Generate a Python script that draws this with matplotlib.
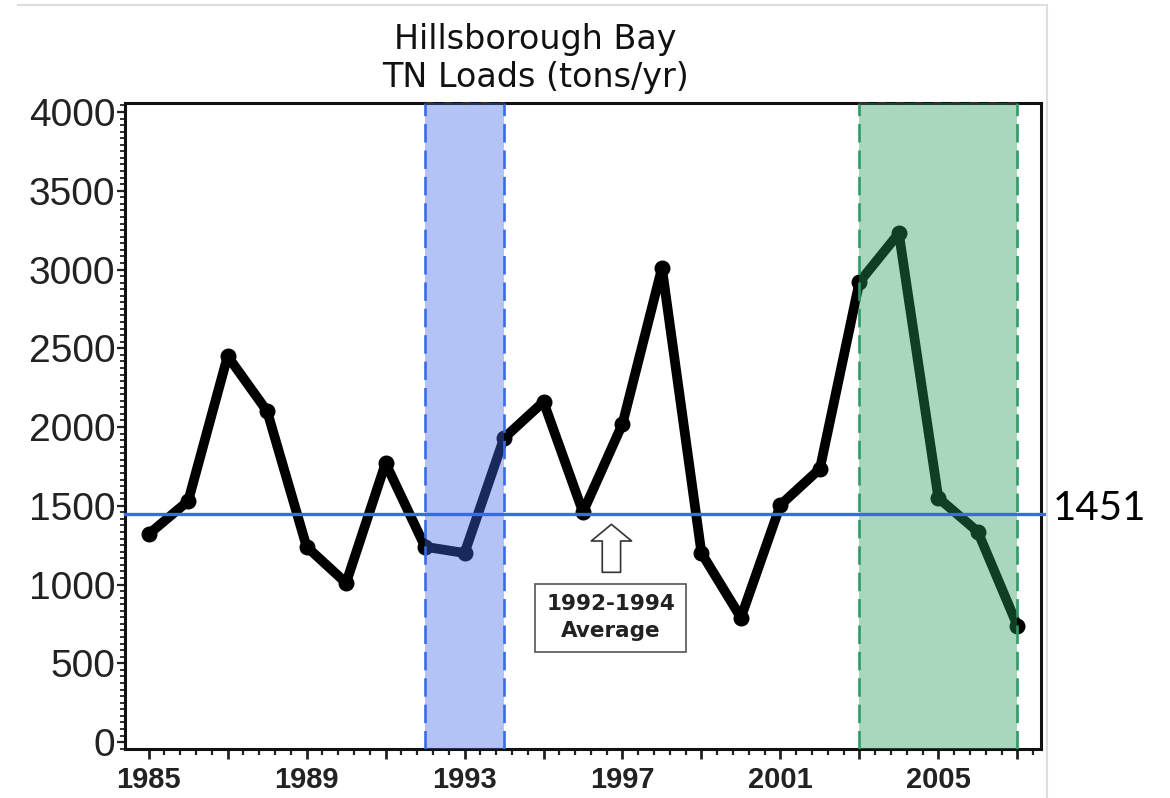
#!/usr/bin/env python3
"""
Hillsborough Bay TN loads (tons/yr), 1985-2007.

- black line with markers for yearly loads
- shaded 1992-1994 reference window and 2003-2007 window
- blue line at the 1992-1994 average (1451)
"""

import matplotlib
matplotlib.use("Agg")
import matplotlib.pyplot as plt
import matplotlib.transforms as mtransforms
from matplotlib.lines import Line2D
from matplotlib.ticker import FixedLocator, FuncFormatter, AutoMinorLocator
import numpy as np

# ---- data -------------------------------------------------------------
years = [1985, 1986, 1987, 1988, 1989, 1990, 1991, 1992, 1993, 1994, 1995, 1996,
         1997, 1998, 1999, 2000, 2001, 2002, 2003, 2004, 2005, 2006, 2007]
tn_loads = [1320, 1530, 2450, 2100, 1240, 1010, 1770, 1240, 1200, 1930, 2160, 1460,
            2020, 3010, 1200, 790, 1505, 1735, 2920, 3230, 1550, 1335, 740]

ref_window = (1992, 1994)
recent_window = (2003, 2007)
ref_average = 1451

y_ticks = [0, 500, 1000, 1500, 2000, 2500, 3000, 3500, 4000]
x_labelled = [1985, 1989, 1993, 1997, 2001, 2005]

title_lines = ["Hillsborough Bay", "TN Loads (tons/yr)"]
box_text = "1992-1994\nAverage"

# ---- style ------------------------------------------------------------
BLUE = "#3a6be6"
BLUE_FILL = "#4369e6"
GREEN = "#2f9a66"
GREEN_FILL = "#2a9b5c"
W, H = 1170, 798


def shade(ax, span, fill, edge):
    # fill drawn over the data line (it tints the line), dashed edges on top
    ax.axvspan(span[0], span[1], color=fill, alpha=0.4, lw=0, zorder=3)
    for x in span:
        ax.axvline(x, color=edge, lw=1.9, ls=(0, (7, 3)), zorder=4)
    ax.plot(span, [4057, 4057], color="#333333", lw=1.9, ls=(0, (3, 4)),
            zorder=5, clip_on=False)


def main():
    fig = plt.figure(figsize=(W / 100, H / 100), dpi=100)
    ax = fig.add_axes([125 / W, 1 - 749 / H, (1041 - 125) / W, (749 - 103) / H])

    ax.plot(years, tn_loads, color="black", lw=7, marker="o", ms=10.5,
            solid_joinstyle="round", zorder=2)

    shade(ax, ref_window, BLUE_FILL, BLUE)
    shade(ax, recent_window, GREEN_FILL, GREEN)

    # average line runs a bit past the right spine
    ax.axhline(ref_average, xmin=0, xmax=(1044 - 125) / (1041 - 125),
               color=BLUE, lw=2.4, zorder=6, clip_on=False)
    trans = mtransforms.blended_transform_factory(ax.transAxes, ax.transData)
    ax.text((1053 - 125) / (1041 - 125), ref_average + 30, str(ref_average),
            transform=trans, ha="left", va="center", fontsize=29,
            family="Lato", color="black")

    # hollow arrow + label box
    ax.annotate("", xy=(1996.72, 1400), xytext=(1996.72, 1060),
                arrowprops=dict(arrowstyle="simple,head_length=0.6,head_width=1.45,tail_width=0.66",
                                fc="white", ec="#333333", lw=1.2, mutation_scale=20),
                zorder=7)
    ax.text(1996.7, 790, box_text, ha="center", va="center", fontsize=15.5,
            fontweight="bold", color="#222222", linespacing=1.4, zorder=7,
            bbox=dict(boxstyle="square,pad=0.5", fc="white", ec="#555555", lw=1.2))

    ax.set_xlim(1984.4, 2007.6)
    ax.set_ylim(-44, 4057)

    # ticks
    ax.yaxis.set_major_locator(FixedLocator(y_ticks))
    ax.yaxis.set_minor_locator(AutoMinorLocator(12))
    ax.xaxis.set_major_locator(FixedLocator(np.arange(1985, 2008, 2)))
    ax.xaxis.set_minor_locator(FixedLocator(np.arange(1985, 2007.5, 0.4)))
    ax.xaxis.set_major_formatter(FuncFormatter(
        lambda v, p: str(int(round(v))) if int(round(v)) in x_labelled else ""))

    ax.tick_params(axis="y", which="major", direction="out", length=6, width=1.6,
                   labelsize=28, pad=1, colors="#222222",
                   labelfontfamily="Liberation Sans")
    ax.tick_params(axis="y", which="minor", direction="out", length=3.5, width=1.3,
                   colors="#222222")
    ax.tick_params(axis="x", which="major", direction="out", length=7, width=2,
                   labelsize=21, pad=5, colors="#222222",
                   labelfontfamily="Liberation Sans")
    ax.tick_params(axis="x", which="minor", direction="out", length=4, width=1.6,
                   colors="#222222")
    for lab in ax.get_xticklabels():
        lab.set_fontweight("bold")

    for sp in ax.spines.values():
        sp.set_linewidth(2.2)
        sp.set_color("#111111")

    # title
    fig.text(535 / W, 1 - 40 / H, title_lines[0], ha="center", va="center",
             fontsize=24, color="#111111")
    fig.text(535 / W, 1 - 78 / H, title_lines[1], ha="center", va="center",
             fontsize=24, color="#111111")

    # faint frame of the pasted chart
    fig.add_artist(Line2D([18 / W, 1047 / W], [1 - 5 / H, 1 - 5 / H],
                          color="#dddddd", lw=1.5, transform=fig.transFigure))
    fig.add_artist(Line2D([1047 / W, 1047 / W], [1 - 5 / H, 0],
                          color="#dddddd", lw=1.5, transform=fig.transFigure))

    fig.savefig("out.png", dpi=100)


if __name__ == "__main__":
    main()
